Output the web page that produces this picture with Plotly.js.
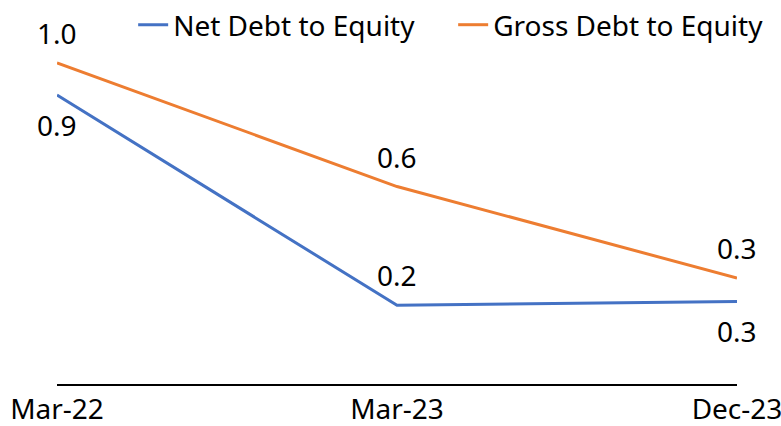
<!DOCTYPE html>
<html>
<head>
<meta charset="utf-8">
<script src="https://cdn.plot.ly/plotly-3.0.1.min.js"></script>
<style>html,body{margin:0;padding:0;background:#fff;}#chart{width:781px;height:426px;}</style>
</head>
<body>
<div id="chart"></div>
<script>
const categories = ["Mar-22", "Mar-23", "Dec-23"];
const netDebt = [0.90, 0.245, 0.257];
const grossDebt = [1.0, 0.615, 0.33];
const netLabels = ["0.9", "0.2", "0.3"];
const grossLabels = ["1.0", "0.6", "0.3"];
const netLabelSide = [1, -1, 1];    // 1 = below, -1 = above
const grossLabelSide = [-1, -1, -1];

const FONT = "Noto Sans, sans-serif";
const SIZE = 28;
const traces = [
  {x: categories, y: netDebt, name: "Net Debt to Equity", mode: "lines", type: "scatter",
   line: {color: "#4472C4", width: 3}},
  {x: categories, y: grossDebt, name: "Gross Debt to Equity", mode: "lines", type: "scatter",
   line: {color: "#ED7D31", width: 3}}
];
const annotations = [];
categories.forEach((c, i) => {
  annotations.push({x: c, y: netDebt[i], text: netLabels[i], showarrow: false,
    xanchor: "center", yanchor: "middle", yshift: -30 * netLabelSide[i],
    font: {family: FONT, size: SIZE, color: "#000"}});
  annotations.push({x: c, y: grossDebt[i], text: grossLabels[i], showarrow: false,
    xanchor: "center", yanchor: "middle", yshift: -30 * grossLabelSide[i],
    font: {family: FONT, size: SIZE, color: "#000"}});
});
const layout = {
  width: 781, height: 426,
  margin: {l: 57, r: 44, t: 0, b: 42},
  paper_bgcolor: "#fff", plot_bgcolor: "#fff",
  font: {family: FONT, size: SIZE, color: "#000"},
  showlegend: true,
  legend: {orientation: "h", x: 0.112, xanchor: "left", y: 1, yanchor: "top",
           yref: "paper", font: {family: FONT, size: SIZE, color: "#000"},
           entrywidth: 275, entrywidthmode: "pixels", bgcolor: "rgba(0,0,0,0)"},
  xaxis: {type: "category", range: [0, 2], showgrid: false, zeroline: false,
          showline: true, linecolor: "#000", linewidth: 1.5, ticks: "",
          tickfont: {family: FONT, size: SIZE, color: "#000"}, automargin: false},
  yaxis: {range: [0, 1.196], visible: false, showgrid: false, zeroline: false},
  annotations: annotations
};
Plotly.newPlot("chart", traces, layout, {displayModeBar: false, staticPlot: true});
</script>
</body>
</html>
